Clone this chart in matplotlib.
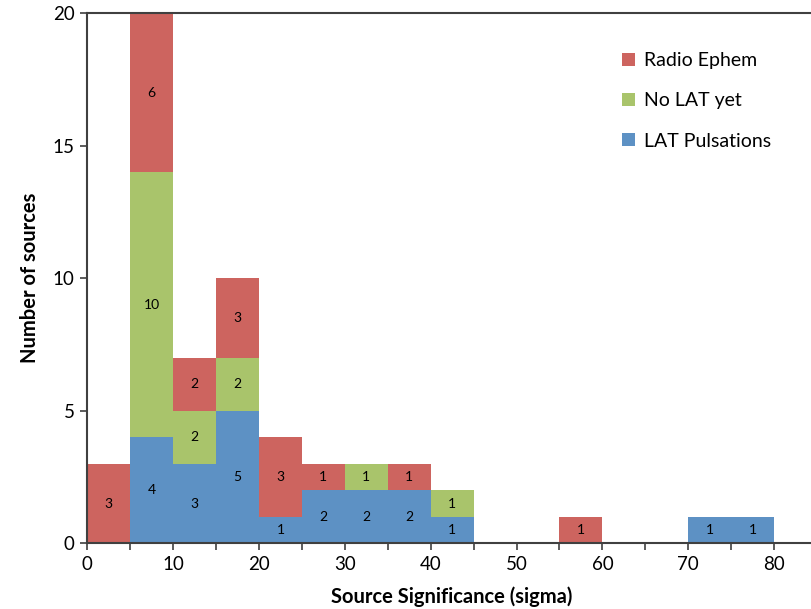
import matplotlib
matplotlib.use("Agg")
import matplotlib.pyplot as plt
import numpy as np

plt.rcParams['font.family'] = ['Lato', 'DejaVu Sans']

# Histogram bins (sigma), 5-sigma wide
bin_left = [0, 5, 10, 15, 20, 25, 30, 35, 40, 45, 50, 55, 60, 65, 70, 75]
lat_pulsations = [0, 4, 3, 5, 1, 2, 2, 2, 1, 0, 0, 0, 0, 0, 1, 1]
no_lat_yet =     [0, 10, 2, 2, 0, 0, 1, 0, 1, 0, 0, 0, 0, 0, 0, 0]
radio_ephem =    [3, 6, 2, 3, 3, 1, 0, 1, 0, 0, 0, 1, 0, 0, 0, 0]

series = [
    ("LAT Pulsations", lat_pulsations, "#5d91c4"),
    ("No LAT yet", no_lat_yet, "#a9c46b"),
    ("Radio Ephem", radio_ephem, "#cd645f"),
]
bin_width = 5

fig = plt.figure(figsize=(8.11, 6.09), dpi=100)
ax = fig.add_axes([0.1076, 0.1079, 0.8924, 0.8703])

bottom = np.zeros(len(bin_left))
handles = {}
for name, vals, color in series:
    vals = np.array(vals, dtype=float)
    bars = ax.bar(bin_left, vals, width=bin_width, bottom=bottom, align='edge',
                  color=color, edgecolor='none', linewidth=0, label=name)
    handles[name] = bars
    for x, v, b in zip(bin_left, vals, bottom):
        if v > 0:
            ax.text(x + bin_width / 2, b + v / 2, f"{int(v)}", ha='center',
                    va='center', fontsize=10, color='black')
    bottom += vals

ax.set_xlim(0, 84.3)
ax.set_ylim(0, 20)
ax.set_xticks(np.arange(0, 81, 10))
ax.set_xticks(np.arange(0, 81, 5), minor=True)
ax.set_yticks(np.arange(0, 21, 5))
ax.tick_params(axis='both', which='both', direction='out', length=5,
               width=1.2, color='#404040', labelsize=13.5, pad=4)
ax.tick_params(axis='x', which='minor', length=5)

for side in ('left', 'bottom', 'top'):
    ax.spines[side].set_color('#404040')
    ax.spines[side].set_linewidth(1.5)
ax.spines['right'].set_visible(False)

ax.set_xlabel("Source Significance (sigma)", fontsize=14.5, fontweight='bold')
ax.set_ylabel("Number of sources", fontsize=14.5, fontweight='bold')
ax.xaxis.set_label_coords(0.5037, -0.101)
ax.yaxis.set_label_coords(-0.079, 0.5)
ax.xaxis.label.set_va('center')
ax.yaxis.label.set_va('center')

order = ["Radio Ephem", "No LAT yet", "LAT Pulsations"]
ax.legend([handles[n] for n in order], order, loc='upper left',
          bbox_to_anchor=(0.715, 0.96), frameon=False, fontsize=14,
          handlelength=0.65, handleheight=0.65, handletextpad=0.45,
          labelspacing=1.2)

fig.savefig("out.png", dpi=100)
